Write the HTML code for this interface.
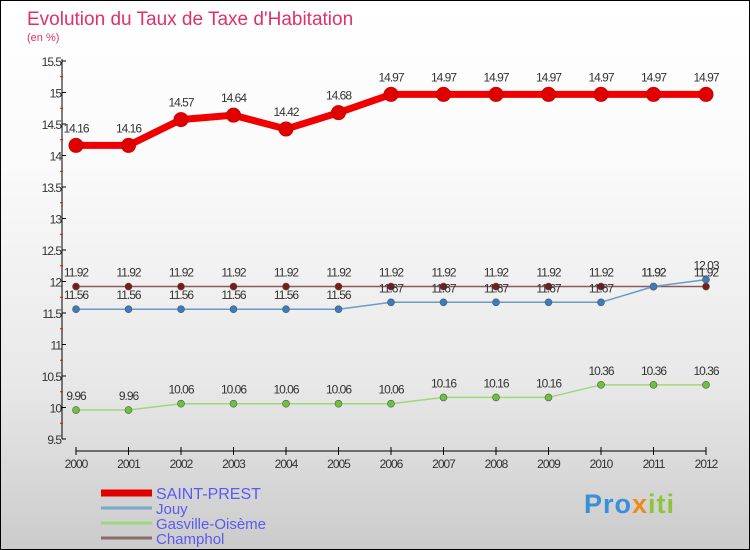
<!DOCTYPE html>
<html><head><meta charset="utf-8"><style>
body{margin:0}
#c{width:748px;height:548px;border:1px solid #000;background:linear-gradient(#fff,#fafafa 30%,#e8e8e8 70%,#cbcbcb);position:relative;font-family:"Liberation Sans",sans-serif;overflow:hidden}
text{font-family:"Liberation Sans",sans-serif}
</style></head><body>
<div id="c">
<svg id="s" width="748" height="548">
<text x="26" y="24" font-size="19" fill="#e0306a">Evolution du Taux de Taxe d'Habitation</text>
<text x="26" y="40" font-size="11" fill="#e0306a">(en %)</text>
<g id="g"></g>
</svg>
<div style="position:absolute;left:583px;top:488px;font-size:27px;font-weight:bold;font-family:'Liberation Sans',sans-serif;letter-spacing:1px"><span style="color:#3a8fd8">Pro</span><span style="color:#f08a1c">x</span><span style="color:#8cc43c">iti</span></div>
</div>
<script>
const years=[2000,2001,2002,2003,2004,2005,2006,2007,2008,2009,2010,2011,2012];
const yTicks=[9.5,10,10.5,11,11.5,12,12.5,13,13.5,14,14.5,15,15.5];
const saintPrest=[14.16,14.16,14.57,14.64,14.42,14.68,14.97,14.97,14.97,14.97,14.97,14.97,14.97];
const jouy=[11.56,11.56,11.56,11.56,11.56,11.56,11.67,11.67,11.67,11.67,11.67,11.92,12.03];
const gasville=[9.96,9.96,10.06,10.06,10.06,10.06,10.06,10.16,10.16,10.16,10.36,10.36,10.36];
const champhol=[11.92,11.92,11.92,11.92,11.92,11.92,11.92,11.92,11.92,11.92,11.92,11.92,11.92];
const names=["SAINT-PREST","Jouy","Gasville-Oisème","Champhol"];
const NS="http://www.w3.org/2000/svg";
const g=document.getElementById('g');
const X=i=>75+i*52.5;
const Y=v=>60+(15.5-v)*63;
function mk(t,a,p){const e=document.createElementNS(NS,t);for(const k in a)e.setAttribute(k,a[k]);(p||g).appendChild(e);return e;}
let e;
e=mk('line',{x1:61,y1:58,x2:61,y2:438,stroke:'#000'});


e=mk('line',{x1:75,y1:450,x2:705,y2:450,stroke:'#000'});


yTicks.forEach((v,i)=>{
 mk('line',{x1:61,y1:Y(v),x2:65,y2:Y(v),stroke:'#000'});
 if(i>0)mk('line',{x1:59,y1:Y(v-0.25),x2:62,y2:Y(v-0.25),stroke:'#f00'});
 e=mk('text',{x:60,y:Y(v)+5,'font-size':12,'text-anchor':'end',fill:'#333','letter-spacing':'-1'});
 e.textContent=String(v);
 
 
});
years.forEach((y,i)=>{
 mk('line',{x1:X(i),y1:446,x2:X(i),y2:454,stroke:'#000'});
 e=mk('text',{x:X(i),y:467,'font-size':12,'text-anchor':'middle',fill:'#333','letter-spacing':'-1'});
 e.textContent=y;
 
 
});
const series=[[champhol,'#8b5a5a','#7a1a1a',1.5,3.5,'champhol'],[jouy,'#6a9cc8','#3a7cc0',1.5,3.5,'jouy'],[gasville,'#9ed87a','#6cc33a',1.5,3.5,'gasville-oiseme'],[saintPrest,'#f00000','#e00000',7,7,'saint-prest']];
series.forEach(([d,lc,pc,w,r,n])=>{
 e=mk('polyline',{points:d.map((v,i)=>X(i)+','+Y(v)).join(' '),fill:'none',stroke:lc,'stroke-width':w});
 
 
 d.forEach((v,i)=>{
  e=mk('circle',{cx:X(i),cy:Y(v),r:r,fill:pc,stroke:r>5?'#c00':'#555','stroke-width':r>5?1:0.6});
  
  
  e=mk('text',{x:X(i),y:Y(v)-(r>5?13:10),'font-size':12,'text-anchor':'middle',fill:'#333','letter-spacing':'-1'});
  e.textContent=String(v);
  
  
 });
});
const lc=[['#e00000',7],['#7aa8cc',3],['#9ed87a',3],['#8b6a6a',3]];
names.forEach((nm,i)=>{
 const y=492+i*15;
 e=mk('line',{x1:100,y1:y,x2:151,y2:y,stroke:lc[i][0],'stroke-width':lc[i][1]});
 
 
 e=mk('text',{x:155,y:y+6,'font-size':i==0?16:15,fill:'#5a5af0'});
 e.textContent=nm;
 
 
});
</script>
</body></html>
